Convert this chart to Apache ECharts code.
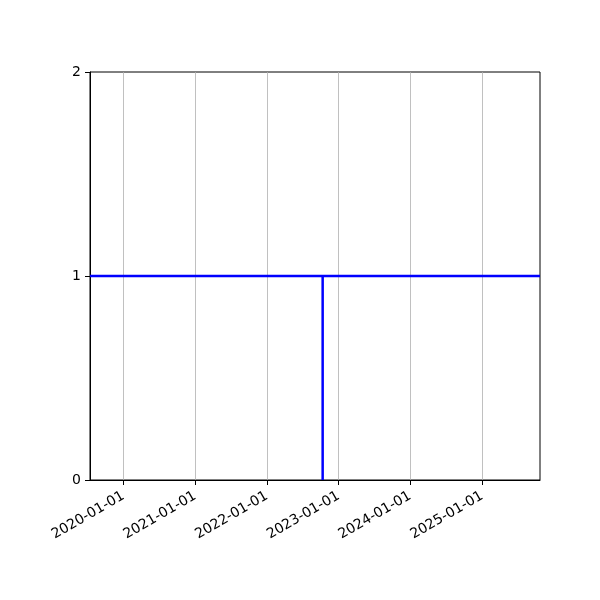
<!DOCTYPE html>
<html>
<head>
<meta charset="utf-8">
<script src="https://cdn.jsdelivr.net/npm/echarts@6/dist/echarts.min.js"></script>
<style>html,body{margin:0;padding:0;background:#fff}#c{width:600px;height:600px}</style>
</head>
<body>
<div id="c"></div>
<script>
const xRange = ['2019-07-15', '2025-10-23'];
const xTickLabels = ['2020-01-01', '2021-01-01', '2022-01-01', '2023-01-01', '2024-01-01', '2025-01-01'];
const yTicks = [0, 1, 2];
const hLineY = [1, 1];
const vLineDate = '2022-10-12';
const vLineY = [0, 1];

const t = s => Date.parse(s + 'T00:00:00Z');
const xTicks = xTickLabels.map(t);
const xMin = t(xRange[0]), xMax = t(xRange[1]);

const chart = echarts.init(document.getElementById('c'), null, {renderer: 'canvas'});
const font = 'DejaVu Sans';
chart.setOption({
  animation: false,
  backgroundColor: '#fff',
  grid: {left: 90, right: 60, top: 72, bottom: 120, show: true, borderColor: '#000', borderWidth: 1, backgroundColor: 'transparent'},
  xAxis: {
    type: 'value', min: xMin, max: xMax, scale: true,
    axisLine: {show: true, lineStyle: {color: '#000', width: 1}},
    axisTick: {show: true, length: 5, customValues: xTicks, lineStyle: {color: '#000'}},
    axisLabel: {customValues: xTicks, rotate: 30, color: '#000', fontFamily: font, fontSize: 14, margin: 15,
      formatter: v => new Date(v).toISOString().slice(0, 10)},
    splitLine: {show: false}
  },
  yAxis: {
    type: 'value', min: yTicks[0], max: yTicks[yTicks.length - 1], interval: 1,
    axisLine: {show: true, lineStyle: {color: '#000', width: 1}},
    axisTick: {show: true, length: 5, lineStyle: {color: '#000'}},
    axisLabel: {color: '#000', fontFamily: font, fontSize: 14, margin: 9},
    splitLine: {show: false}
  },
  series: [
    {
      type: 'line', data: [], silent: true,
      markLine: {
        silent: true, symbol: 'none', label: {show: false},
        lineStyle: {color: '#b0b0b0', width: 0.8, type: 'solid'},
        data: xTicks.map(v => ({xAxis: v}))
      }
    },
    {
      type: 'line', symbol: 'none', z: 5,
      lineStyle: {color: '#0000ff', width: 2.5},
      data: [[xMin, hLineY[0]], [xMax, hLineY[1]]]
    },
    {
      type: 'line', symbol: 'none', z: 5,
      lineStyle: {color: '#0000ff', width: 2.5},
      data: vLineY.map(y => [t(vLineDate), y])
    }
  ]
});
</script>
</body>
</html>
